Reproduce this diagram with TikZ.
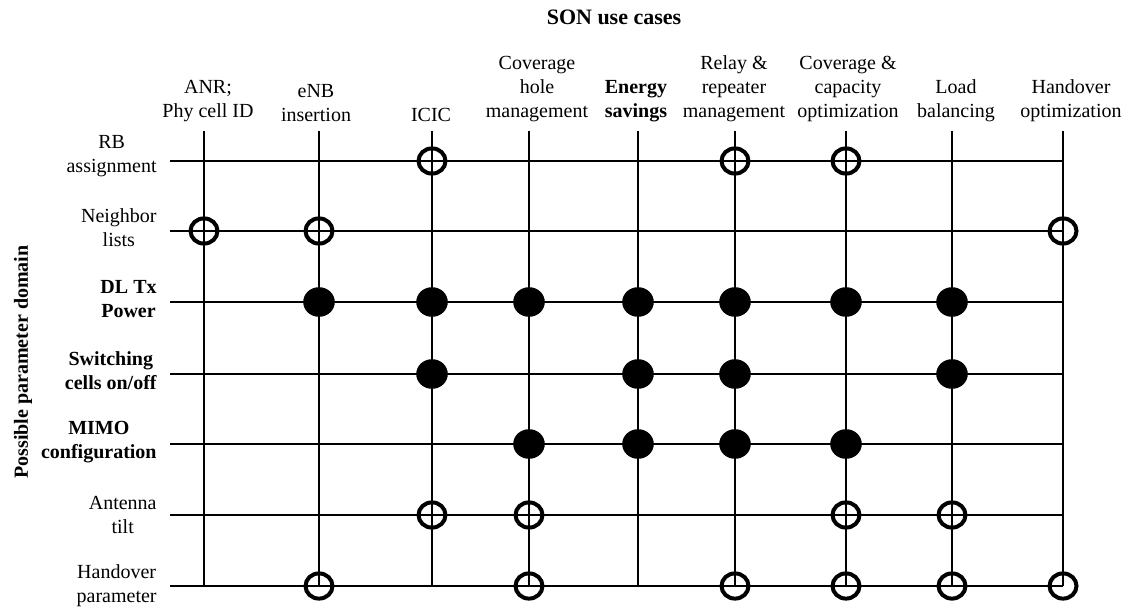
\documentclass[tikz,border=0pt]{standalone}
\usepackage{fontspec}
\setmainfont{Liberation Serif}
\usetikzlibrary{shapes.geometric}

\begin{document}
\begin{tikzpicture}[
    x=0.5pt, y=-0.5pt,
    font=\fontsize{10}{12}\selectfont,
    gridline/.style={draw=black, line width=1pt},
    usecase/.style={anchor=south, align=center, inner sep=0pt},
    param/.style={anchor=east, align=center, inner sep=0pt},
    boldtext/.style={font=\fontsize{10}{12}\selectfont\bfseries},
    strong/.style={ellipse, fill=black, minimum width=15.8pt, minimum height=14.8pt, inner sep=0pt},
    weak/.style={ellipse, draw=black, line width=2pt, minimum width=13.5pt, minimum height=12.6pt, inner sep=0pt},
    heading/.style={font=\fontsize{11}{13}\selectfont\bfseries, inner sep=0pt}
]
\useasboundingbox (0,0) rectangle (1128,609);

% Titles
\node[heading] (title) at (614,17) {SON use cases};
\node[heading, font=\fontsize{10}{12}\selectfont\bfseries, rotate=90] (domain) at (23,362) {Possible parameter domain};

% Column tops (use cases)
\coordinate (anr) at (204,131);
\coordinate (enb) at (319,131);
\coordinate (icic) at (432,131);
\coordinate (hole) at (529,131);
\coordinate (energy) at (638,131);
\coordinate (relay) at (735,131);
\coordinate (cco) at (846,131);
\coordinate (load) at (952,131);
\coordinate (hoopt) at (1063,131);

% Row starts (parameters)
\coordinate (rb) at (170,161);
\coordinate (nbr) at (170,231);
\coordinate (dltx) at (170,302);
\coordinate (onoff) at (170,374);
\coordinate (mimo) at (170,444);
\coordinate (tilt) at (170,515);
\coordinate (hopar) at (170,586);

% Use case labels
\node[usecase] (l-anr) at (208,122) {ANR;\\Phy cell ID};
\node[usecase] (l-enb) at (316,122) {eNB\\insertion};
\node[usecase] (l-icic) at (431,122) {ICIC};
\node[usecase] (l-hole) at (537,122) {Coverage\\hole\\management};
\node[usecase, boldtext] (l-energy) at (636,122) {Energy\\savings};
\node[usecase] (l-relay) at (734,122) {Relay \&\\repeater\\management};
\node[usecase] (l-cco) at (848,122) {Coverage \&\\capacity\\optimization};
\node[usecase] (l-load) at (956,122) {Load\\balancing};
\node[usecase] (l-hoopt) at (1071,122) {Handover\\optimization};

% Parameter labels
\node[param] (l-rb) at (157,156) {RB\\assignment};
\node[param] (l-nbr) at (157,228) {Neighbor\\lists};
\node[param, boldtext] (l-dltx) at (157,299.5) {DL Tx\\Power};
\node[param, boldtext] (l-onoff) at (157,371) {Switching\\cells on/off};
\node[param, boldtext] (l-mimo) at (157,442.5) {MIMO\\configuration};
\node[param] (l-tilt) at (157,515) {Antenna\\tilt};
\node[param] (l-hopar) at (157,586) {Handover\\parameter};

% Grid
\draw[gridline] (anr) -- (anr |- hopar);
\draw[gridline] (enb) -- (enb |- hopar);
\draw[gridline] (icic) -- (icic |- hopar);
\draw[gridline] (hole) -- (hole |- hopar);
\draw[gridline] (energy) -- (energy |- hopar);
\draw[gridline] (relay) -- (relay |- hopar);
\draw[gridline] (cco) -- (cco |- hopar);
\draw[gridline] (load) -- (load |- hopar);
\draw[gridline] (hoopt) -- (hoopt |- hopar);
\draw[gridline] (rb) -- (rb -| hoopt);
\draw[gridline] (nbr) -- (nbr -| hoopt);
\draw[gridline] (dltx) -- (dltx -| hoopt);
\draw[gridline] (onoff) -- (onoff -| hoopt);
\draw[gridline] (mimo) -- (mimo -| hoopt);
\draw[gridline] (tilt) -- (tilt -| hoopt);
\draw[gridline] (hopar) -- (hopar -| hoopt);

% RB assignment
\node[weak] (rb-icic) at (icic |- rb) {};
\node[weak] (rb-relay) at (relay |- rb) {};
\node[weak] (rb-cco) at (cco |- rb) {};

% Neighbor lists
\node[weak] (nbr-anr) at (anr |- nbr) {};
\node[weak] (nbr-enb) at (enb |- nbr) {};
\node[weak] (nbr-hoopt) at (hoopt |- nbr) {};

% DL Tx power
\node[strong] (dltx-enb) at (enb |- dltx) {};
\node[strong] (dltx-icic) at (icic |- dltx) {};
\node[strong] (dltx-hole) at (hole |- dltx) {};
\node[strong] (dltx-energy) at (energy |- dltx) {};
\node[strong] (dltx-relay) at (relay |- dltx) {};
\node[strong] (dltx-cco) at (cco |- dltx) {};
\node[strong] (dltx-load) at (load |- dltx) {};

% Switching cells on/off
\node[strong] (onoff-icic) at (icic |- onoff) {};
\node[strong] (onoff-energy) at (energy |- onoff) {};
\node[strong] (onoff-relay) at (relay |- onoff) {};
\node[strong] (onoff-load) at (load |- onoff) {};

% MIMO configuration
\node[strong] (mimo-hole) at (hole |- mimo) {};
\node[strong] (mimo-energy) at (energy |- mimo) {};
\node[strong] (mimo-relay) at (relay |- mimo) {};
\node[strong] (mimo-cco) at (cco |- mimo) {};

% Antenna tilt
\node[weak] (tilt-icic) at (icic |- tilt) {};
\node[weak] (tilt-hole) at (hole |- tilt) {};
\node[weak] (tilt-cco) at (cco |- tilt) {};
\node[weak] (tilt-load) at (load |- tilt) {};

% Handover parameter
\node[weak] (hopar-enb) at (enb |- hopar) {};
\node[weak] (hopar-hole) at (hole |- hopar) {};
\node[weak] (hopar-relay) at (relay |- hopar) {};
\node[weak] (hopar-cco) at (cco |- hopar) {};
\node[weak] (hopar-load) at (load |- hopar) {};
\node[weak] (hopar-hoopt) at (hoopt |- hopar) {};

\end{tikzpicture}
\end{document}
